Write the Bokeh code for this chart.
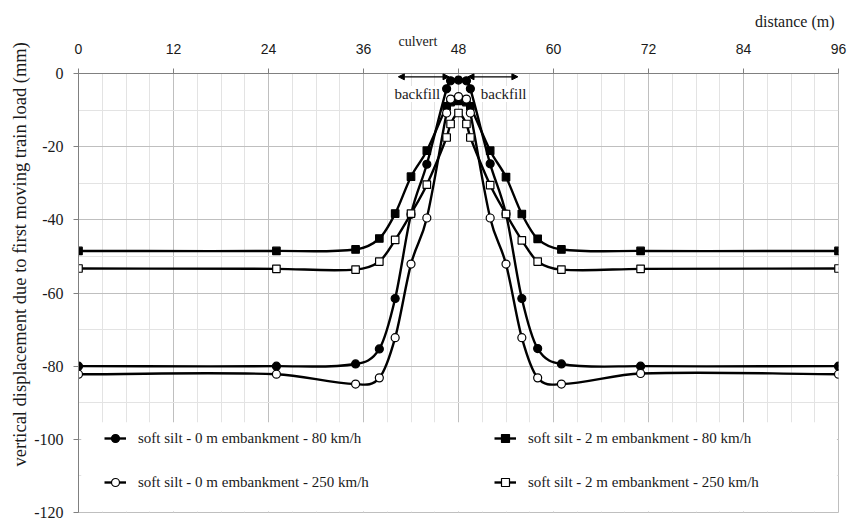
import numpy as np
from bokeh.plotting import figure
from bokeh.models import (Range1d, FixedTicker, Legend, LegendItem, Label, Arrow, Title,
                          NormalHead, BoxAnnotation, ColumnDataSource)
from bokeh.embed import file_html
from bokeh.resources import INLINE

# ---------------- data ----------------
distance = [0, 25, 35, 38, 40, 42, 44, 46.5, 47, 48, 49, 49.5, 52, 54, 56, 58, 61, 71, 96]
silt_0m_80 = [-80.0, -80.0, -79.4, -75.3, -61.5, -38.5, -24.8, -4.2, -2.0, -1.8, -2.0, -4.2,
              -24.7, -38.4, -61.5, -75.2, -79.4, -80.0, -80.0]
silt_2m_80 = [-48.5, -48.5, -48.1, -45.1, -38.3, -28.2, -21.1, -9.0, -7.8, -7.5, -7.8, -9.0,
              -21.1, -28.3, -38.4, -45.2, -48.1, -48.5, -48.5]
silt_0m_250 = [-82.2, -82.2, -84.9, -83.2, -72.2, -52.1, -39.5, -10.8, -7.0, -6.3, -7.0, -10.8,
               -39.5, -52.1, -72.2, -83.2, -84.9, -82.0, -82.2]
silt_2m_250 = [-53.3, -53.4, -53.6, -51.4, -45.5, -38.3, -30.4, -17.5, -13.8, -10.8, -13.8, -17.5,
               -30.5, -38.4, -45.6, -51.4, -53.6, -53.4, -53.3]

series_labels = ["soft silt - 0 m embankment - 80 km/h",
                 "soft silt - 2 m embankment - 80 km/h",
                 "soft silt - 0 m embankment - 250 km/h",
                 "soft silt - 2 m embankment - 250 km/h"]

x_ticks = [0, 12, 24, 36, 48, 60, 72, 84, 96]
y_ticks = [0, -20, -40, -60, -80, -100, -120]


def smooth_segments(x, y):
    """Bezier control points (cubic Hermite in x) for a smoothed line through the points."""
    x = np.asarray(x, float)
    y = np.asarray(y, float)
    n = len(x)
    slope = np.empty(n)
    slope[0] = (y[1] - y[0]) / (x[1] - x[0])
    slope[-1] = (y[-1] - y[-2]) / (x[-1] - x[-2])
    slope[1:-1] = (y[2:] - y[:-2]) / (x[2:] - x[:-2])
    h = (x[1:] - x[:-1]) / 3.0
    return ColumnDataSource(dict(
        x0=x[:-1], y0=y[:-1], x1=x[1:], y1=y[1:],
        cx0=x[:-1] + h, cy0=y[:-1] + slope[:-1] * h,
        cx1=x[1:] - h, cy1=y[1:] - slope[1:] * h))


SERIF = "Liberation Serif"
SANS = "Liberation Sans"
TXT = "#1a1a1a"

p = figure(width=847, height=523, x_range=Range1d(0, 96), y_range=Range1d(-120, 0),
           x_axis_location="above", output_backend="svg", toolbar_location=None,
           min_border_left=78, min_border_right=9, min_border_top=73, min_border_bottom=11)
p.background_fill_color = "white"
p.border_fill_color = "white"
p.outline_line_color = "#bfbfbf"

# axes
p.xaxis.ticker = FixedTicker(ticks=x_ticks, minor_ticks=list(np.arange(0, 97, 3)))
p.yaxis.ticker = FixedTicker(ticks=y_ticks, minor_ticks=list(np.arange(-120, 1, 10)))
p.xaxis.major_label_overrides = {t: str(t) for t in x_ticks}
p.yaxis.major_label_overrides = {t: str(t) for t in y_ticks}
for ax in (p.xaxis[0], p.yaxis[0]):
    ax.axis_line_color = "#808080"
    ax.major_tick_line_color = "#808080"
    ax.major_tick_in = 0
    ax.major_tick_out = 5
    ax.minor_tick_line_color = None
    ax.major_label_text_color = TXT
p.xaxis.major_label_text_font = SANS
p.xaxis.major_label_text_font_size = "14px"
p.xaxis.major_label_standoff = 15
p.yaxis.major_label_text_font = SERIF
p.yaxis.major_label_text_font_size = "16px"
p.yaxis.major_label_standoff = 10

# grids
p.xgrid.grid_line_color = "#bfbfbf"
p.ygrid.grid_line_color = "#bfbfbf"
p.xgrid.minor_grid_line_color = "#e3e3e3"
p.ygrid.minor_grid_line_color = "#e3e3e3"

# series
styles = [
    (silt_0m_80, "circle", "black", 8),
    (silt_2m_80, "square", "black", 7.5),
    (silt_0m_250, "circle", "white", 8),
    (silt_2m_250, "square", "white", 7.5),
]
renderers = []
for yv, marker, fill, size in styles:
    b = p.bezier(x0="x0", y0="y0", x1="x1", y1="y1", cx0="cx0", cy0="cy0", cx1="cx1", cy1="cy1",
                 source=smooth_segments(distance, yv), line_color="black", line_width=2.4)
    s = p.scatter(distance, yv, marker=marker, size=size, fill_color=fill,
                  line_color="black", line_width=1.2)
    renderers.append((b, s))

# white area behind legend
p.add_layout(BoxAnnotation(left=0.35, right=95.8, bottom=-119.7, top=-95.3,
                           fill_color="white", fill_alpha=1.0, line_alpha=0))

leg_left = Legend(items=[LegendItem(label=series_labels[0], renderers=list(renderers[0])),
                         LegendItem(label=series_labels[2], renderers=list(renderers[2]))],
                  location=(16, 10))
leg_right = Legend(items=[LegendItem(label=series_labels[1], renderers=list(renderers[1])),
                          LegendItem(label=series_labels[3], renderers=list(renderers[3]))],
                   location=(406, 10))
for lg in (leg_left, leg_right):
    lg.background_fill_alpha = 0
    lg.border_line_alpha = 0
    lg.label_text_font = SERIF
    lg.label_text_font_size = "15px"
    lg.label_text_color = TXT
    lg.glyph_width = 22
    lg.glyph_height = 20
    lg.label_height = 20
    lg.spacing = 24
    lg.padding = 10
    lg.margin = 0
    lg.label_standoff = 12
    p.add_layout(lg, "center")

# titles outside the frame
p.add_layout(Title(text="culvert", align="left", offset=320, standoff=-16,
                   text_font=SERIF, text_font_size="14px", text_font_style="normal",
                   text_color=TXT), "above")
p.add_layout(Title(text="distance (m)", align="right", offset=4, standoff=20,
                   text_font=SERIF, text_font_size="16px", text_font_style="normal",
                   text_color=TXT), "above")
p.add_layout(Title(text="vertical displacement due to first moving train load  (mm)",
                   align="right", offset=-36, standoff=4,
                   text_font=SERIF, text_font_size="18.5px", text_font_style="normal",
                   text_color=TXT), "left")

# backfill annotations
for xc in (42.8, 53.7):
    p.add_layout(Label(x=xc, y=-5.6, text="backfill", text_align="center", text_baseline="middle",
                       text_font=SERIF, text_font_size="15px", text_color=TXT,
                       background_fill_color="white"))
for xs, xe in ((40.4, 46.8), (49.2, 55.5)):
    p.add_layout(Arrow(x_start=xs, y_start=-0.9, x_end=xe, y_end=-0.9, line_width=1.2,
                       start=NormalHead(size=6, line_width=1),
                       end=NormalHead(size=6, line_width=1)))

open("out.html", "w").write(file_html(p, INLINE))
